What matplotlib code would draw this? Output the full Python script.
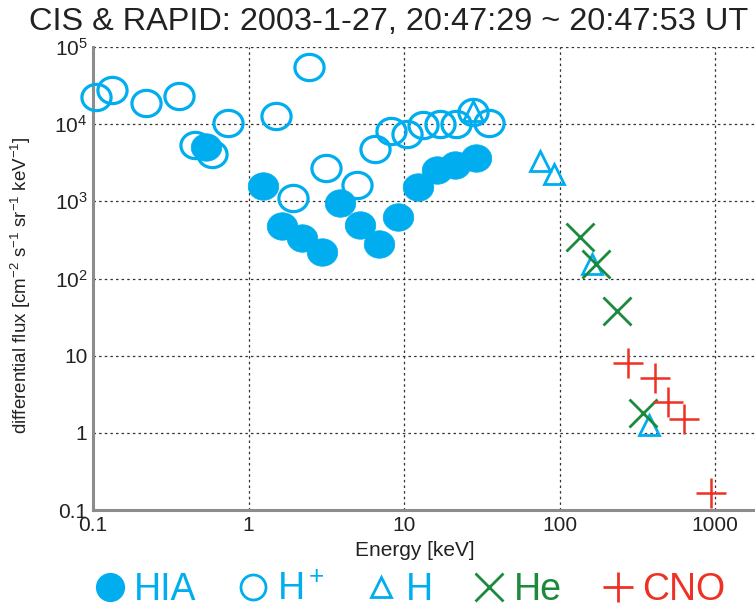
import matplotlib
matplotlib.use("Agg")
import matplotlib.pyplot as plt
from matplotlib.lines import Line2D
from matplotlib.path import Path
import numpy as np
from matplotlib import font_manager

# ---------------- data ----------------
hia_e = [0.53, 1.23, 1.65, 2.22, 2.95, 3.9, 5.17, 6.86, 9.2, 12.2, 16.2, 21.4, 28.8]
hia_f = [5000, 1560, 475, 330, 218, 940, 500, 277, 620, 1520, 2520, 2930, 3600]

hp_e = [0.105, 0.133, 0.218, 0.355, 0.45, 0.578, 0.733, 1.51, 1.92, 2.43, 3.13,
        5.0, 6.46, 8.2, 10.4, 13.3, 16.9, 21.7, 27.6, 34.9]
hp_f = [22200, 27400, 18600, 22900, 5300, 4060, 10500, 12600, 1090, 54500, 2680,
        1610, 4720, 8070, 7380, 9640, 9930, 9930, 14200, 10240]

h_e = [27.6, 74.3, 91.5, 161, 373]
h_f = [14700, 3300, 2240, 153, 1.25]

he_e = [136, 171, 233, 342]
he_f = [342, 153, 37.6, 1.8]

cno_e = [274, 408, 496, 627, 935]
cno_f = [7.98, 5.1, 2.49, 1.5, 0.165]

xticks = [0.1, 1, 10, 100, 1000]
xticklabels = ["0.1", "1", "10", "100", "1000"]
yticks = [0.1, 1, 10, 100, 1e3, 1e4, 1e5]
yticklabels = ["0.1", "1", "10", "10$^2$", "10$^3$", "10$^4$", "10$^5$"]

title = "CIS & RAPID: 2003-1-27, 20:47:29 ~ 20:47:53 UT"
xlabel = "Energy [keV]"
ylabel = "differential flux [cm$^{-2}$ s$^{-1}$ sr$^{-1}$ keV$^{-1}$]"

# ---------------- style ----------------
names = {f.name for f in font_manager.fontManager.ttflist}
fam = "Liberation Sans Narrow" if "Liberation Sans Narrow" in names else "Liberation Sans"
plt.rcParams["font.family"] = [fam, "DejaVu Sans"]
plt.rcParams["mathtext.fontset"] = "custom"
plt.rcParams["mathtext.rm"] = fam
plt.rcParams["mathtext.it"] = fam
plt.rcParams["mathtext.default"] = "regular"

CYAN = "#00AEEF"
GREEN = "#1B8A3C"
RED = "#EE3124"

# slightly wide ellipse marker
t = np.linspace(0, 2 * np.pi, 60)
ell = Path(np.column_stack([np.cos(t) * 1.0, np.sin(t) * 0.9]), closed=True)

fig = plt.figure(figsize=(7.55, 6.12), dpi=100)
ax = fig.add_axes([93 / 755, 102 / 612, 669 / 755, 463 / 612])

ax.plot(hp_e, hp_f, ls="none", marker=ell, ms=21, mfc="none", mec=CYAN, mew=2.3, zorder=3, clip_on=False)
ax.plot(hia_e, hia_f, ls="none", marker=ell, ms=22, mfc=CYAN, mec=CYAN, mew=0.5, zorder=4, clip_on=False)
ax.plot(h_e, h_f, ls="none", marker="^", ms=15, mfc="none", mec=CYAN, mew=2.0, zorder=5, clip_on=False)
ax.plot(he_e, he_f, ls="none", marker="x", ms=20, mec=GREEN, mew=2.0, zorder=5, clip_on=False)
ax.plot(cno_e, cno_f, ls="none", marker="+", ms=21, mec=RED, mew=1.8, zorder=5, clip_on=False)

ax.set_xscale("log")
ax.set_yscale("log")
ax.set_xlim(0.1, 2000)
ax.set_ylim(0.1, 1e5)
ax.set_xticks(xticks)
ax.set_xticklabels(xticklabels)
ax.set_yticks(yticks)
ax.set_yticklabels(yticklabels)
ax.minorticks_off()
ax.tick_params(length=0, labelsize=15, pad=4, colors="#222222")
ax.grid(True, which="major", color="#333333", ls=(0, (2, 2.5)), lw=0.9)
ax.set_axisbelow(True)
for s in ["top", "right"]:
    ax.spines[s].set_visible(False)
for s in ["left", "bottom"]:
    ax.spines[s].set_color("#8c8c8c")
    ax.spines[s].set_linewidth(2.2)

ax.set_xlabel(xlabel, fontsize=15, color="#222222")
ax.xaxis.set_label_coords((415 - 93) / 669, -(541 - 510) / 463)
ax.set_ylabel(ylabel, fontsize=13.5, color="#222222")
ax.yaxis.set_label_coords((33 - 93) / 669, (510 - 285) / 463)
fig.text(389 / 755, 1 - 22 / 612, title, fontsize=23.4, ha="center", va="center", color="#222222")

handles = [
    Line2D([], [], ls="none", marker="o", ms=20, mfc=CYAN, mec=CYAN),
    Line2D([], [], ls="none", marker="o", ms=18, mfc="none", mec=CYAN, mew=2),
    Line2D([], [], ls="none", marker="^", ms=15, mfc="none", mec=CYAN, mew=2),
    Line2D([], [], ls="none", marker="x", ms=20, mec=GREEN, mew=2),
    Line2D([], [], ls="none", marker="+", ms=22, mec=RED, mew=2),
]
labels = ["HIA", "H$^+$", "H", "He", "CNO"]
leg = fig.legend(handles, labels, loc="center", bbox_to_anchor=(410 / 755, 1 - 590 / 612),
                 ncol=5, frameon=False, fontsize=27, handlelength=0.8, handletextpad=0.25,
                 columnspacing=1.1, borderpad=0)
for txt, c in zip(leg.get_texts(), [CYAN, CYAN, CYAN, GREEN, RED]):
    txt.set_color(c)

fig.savefig("out.png", dpi=100)
